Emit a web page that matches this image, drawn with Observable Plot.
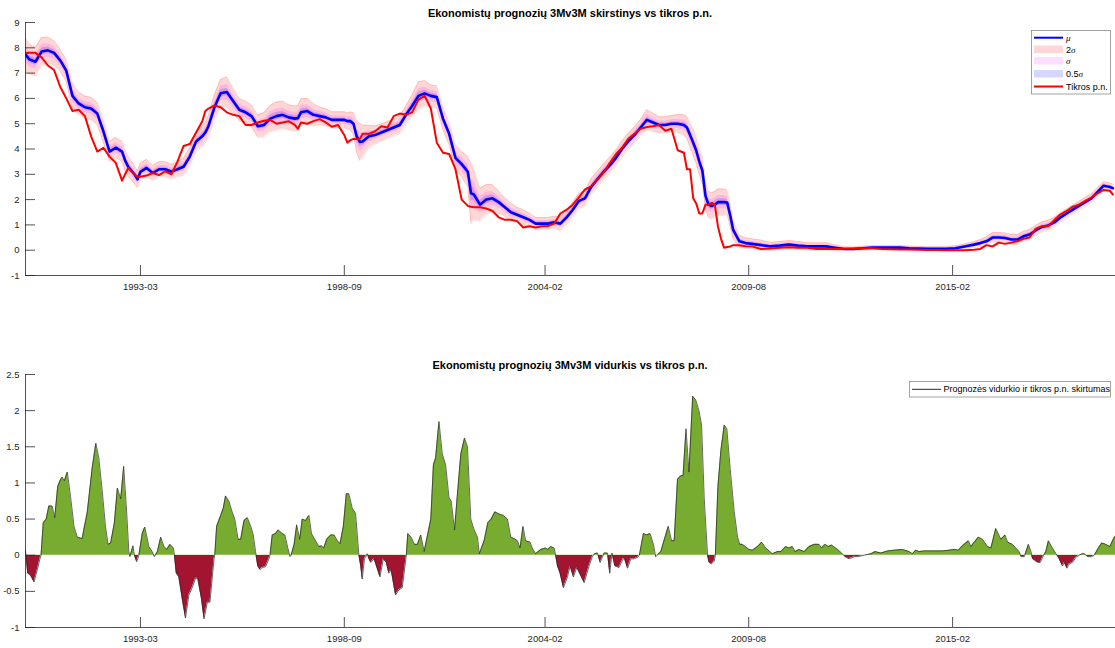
<!DOCTYPE html>
<html>
<head>
<meta charset="utf-8">
<script src="https://cdn.jsdelivr.net/npm/d3@7"></script>
<script src="https://cdn.jsdelivr.net/npm/@observablehq/plot@0.6"></script>
<style>
  html, body { margin: 0; padding: 0; background: white; }
  #wrap { position: relative; width: 1115px; height: 648px; overflow: hidden; font-family: "Liberation Sans", Arial, Helvetica, sans-serif; background: white; }
  .layer { position: absolute; left: 0; width: 1115px; overflow: hidden; }
  .ttl { position: absolute; left: 25px; width: 1090px; text-align: center; font-weight: bold; font-size: 11px; line-height: 14px; color: #000; }
  #overlay { position: absolute; left: 0; top: 0; pointer-events: none; }
</style>
</head>
<body>
<div id="wrap">
  <div id="topPlot" class="layer" style="top:0;height:324px"></div>
  <div id="posLayer" class="layer"></div>
  <div id="negLayer" class="layer"></div>
  <div id="botBase" class="layer" style="top:324px;height:324px"></div>
  <div class="ttl" style="top:6px">Ekonomistų prognozių 3Mv3M skirstinys vs tikros p.n.</div>
  <div class="ttl" style="top:358px">Ekonomistų prognozių 3Mv3M vidurkis vs tikros p.n.</div>
</div>
<script>
// ---------------- DATA ----------------
// Top panel: month, forecast mean (mu), actual rate, forecast std (sigma)
const months = [
"1990-01","1990-03","1990-05","1990-07","1990-09","1990-11","1991-01","1991-03","1991-05","1991-07","1991-09","1991-11",
"1992-01","1992-03","1992-05","1992-07","1992-09","1992-10","1992-11","1993-01","1993-02","1993-03","1993-05","1993-07",
"1993-09","1993-11","1994-01","1994-03","1994-05","1994-07","1994-09","1994-11","1994-12","1995-01","1995-03","1995-05",
"1995-07","1995-09","1995-11","1996-01","1996-03","1996-05","1996-07","1996-09","1996-11","1997-01","1997-03","1997-05",
"1997-06","1997-07","1997-09","1997-11","1998-01","1998-03","1998-05","1998-07","1998-09","1998-10","1998-11","1998-12",
"1999-01","1999-02","1999-03","1999-05","1999-07","1999-09","1999-11","2000-01","2000-03","2000-05","2000-07","2000-09",
"2000-11","2001-01","2001-03","2001-05","2001-07","2001-09","2001-11","2002-01","2002-02","2002-03","2002-05","2002-07",
"2002-09","2002-11","2003-01","2003-03","2003-05","2003-07","2003-09","2003-11","2004-01","2004-03","2004-05","2004-07",
"2004-09","2004-11","2005-01","2005-03","2005-05","2005-07","2005-09","2005-11","2006-01","2006-03","2006-05","2006-07",
"2006-09","2006-11","2007-01","2007-03","2007-05","2007-07","2007-09","2007-11","2007-12","2008-01","2008-02","2008-03",
"2008-04","2008-05","2008-06","2008-07","2008-08","2008-09","2008-10","2008-11","2008-12","2009-01","2009-02","2009-03",
"2009-05","2009-07","2009-09","2009-12","2010-03","2010-06","2010-09","2010-12","2011-03","2011-06","2011-09","2011-12",
"2012-03","2012-06","2012-09","2012-12","2013-03","2013-06","2013-09","2013-12","2014-03","2014-06","2014-09","2014-12",
"2015-03","2015-06","2015-09","2015-11","2016-01","2016-03","2016-05","2016-07","2016-09","2016-11","2017-01","2017-03",
"2017-05","2017-07","2017-09","2017-11","2018-01","2018-03","2018-05","2018-07","2018-09","2018-11","2019-01","2019-03",
"2019-05","2019-06"];
const muValues = [
7.85,7.55,7.45,7.85,7.90,7.80,7.50,7.10,6.10,5.80,5.65,5.60,
5.40,4.70,3.90,4.05,3.90,3.55,3.30,3.00,2.80,3.10,3.25,3.05,
3.20,3.20,3.10,3.20,3.30,3.70,4.30,4.50,4.65,4.90,5.65,6.20,
6.25,5.90,5.55,5.45,5.30,4.90,4.95,5.20,5.30,5.35,5.25,5.20,
5.22,5.45,5.50,5.35,5.30,5.25,5.15,5.15,5.15,5.10,5.10,5.00,
4.50,4.28,4.30,4.50,4.55,4.65,4.75,4.85,4.95,5.35,5.70,6.10,
6.20,6.10,6.05,5.20,4.60,3.65,3.40,3.10,2.25,2.20,1.80,2.00,
2.05,1.90,1.70,1.50,1.40,1.30,1.20,1.05,1.05,1.05,1.10,1.05,
1.30,1.60,1.95,2.05,2.50,2.80,3.10,3.35,3.65,4.00,4.30,4.55,
4.85,5.15,5.05,4.95,4.95,5.00,5.00,4.95,4.85,4.55,4.25,3.95,
3.50,3.15,2.15,1.80,1.75,1.80,1.90,1.90,1.90,1.88,1.35,0.80,
0.35,0.28,0.25,0.20,0.15,0.18,0.22,0.18,0.15,0.15,0.15,0.10,
0.05,0.05,0.08,0.10,0.10,0.10,0.10,0.08,0.07,0.06,0.06,0.06,
0.08,0.15,0.22,0.28,0.35,0.50,0.50,0.48,0.42,0.42,0.55,0.62,
0.78,0.92,0.98,1.10,1.30,1.45,1.60,1.75,1.90,2.05,2.30,2.55,
2.50,2.45];
const actualValues = [
7.78,7.80,7.80,7.62,7.30,7.12,6.45,6.00,5.50,5.55,5.30,4.50,
3.90,4.05,3.70,3.45,2.75,3.00,3.25,3.00,2.90,2.90,2.95,3.05,
2.97,3.12,3.00,3.50,4.12,4.20,4.65,5.10,5.50,5.60,5.72,5.65,
5.45,5.35,5.30,4.95,4.95,5.05,5.12,5.15,5.00,5.05,5.10,4.95,
4.80,5.05,5.00,5.10,5.18,5.05,4.88,4.95,4.55,4.25,4.35,4.40,
4.40,4.40,4.60,4.60,4.70,4.90,4.85,5.30,5.40,5.35,5.45,5.95,
6.10,5.60,4.25,3.85,3.80,3.20,2.00,1.75,1.72,1.70,1.70,1.65,
1.55,1.30,1.20,1.20,1.15,0.90,0.95,0.90,0.95,0.95,1.05,1.45,
1.60,1.80,2.10,2.40,2.52,2.80,3.07,3.45,3.80,4.05,4.40,4.60,
4.80,4.87,4.90,4.95,4.72,4.80,3.95,3.85,3.20,3.20,2.05,1.85,
1.45,1.45,1.80,1.80,1.87,1.80,0.95,0.45,0.10,0.13,0.15,0.20,
0.20,0.16,0.15,0.05,0.07,0.10,0.12,0.10,0.10,0.05,0.05,0.05,
0.06,0.07,0.08,0.08,0.05,0.04,0.03,0.03,0.02,0.01,0.01,0.00,
0.00,0.00,0.02,0.05,0.20,0.15,0.30,0.25,0.30,0.35,0.45,0.50,
0.85,0.95,0.95,1.20,1.42,1.55,1.72,1.80,1.95,2.08,2.25,2.38,
2.35,2.20];
const sigmaValues = [
0.35,0.30,0.28,0.28,0.26,0.24,0.22,0.22,0.25,0.22,0.22,0.22,
0.22,0.22,0.20,0.20,0.20,0.20,0.20,0.18,0.17,0.17,0.17,0.15,
0.15,0.15,0.15,0.15,0.17,0.18,0.18,0.20,0.20,0.22,0.25,0.28,
0.30,0.25,0.22,0.22,0.22,0.22,0.24,0.26,0.28,0.27,0.25,0.25,
0.25,0.27,0.25,0.22,0.18,0.17,0.16,0.16,0.16,0.16,0.18,0.22,
0.32,0.37,0.32,0.22,0.18,0.17,0.17,0.17,0.17,0.18,0.22,0.28,
0.25,0.22,0.22,0.22,0.22,0.25,0.25,0.30,0.60,0.50,0.32,0.30,
0.27,0.22,0.18,0.18,0.15,0.15,0.13,0.12,0.12,0.12,0.12,0.14,
0.15,0.15,0.15,0.15,0.16,0.16,0.16,0.16,0.16,0.16,0.16,0.16,
0.16,0.20,0.18,0.16,0.16,0.16,0.18,0.20,0.22,0.24,0.26,0.26,
0.26,0.26,0.26,0.26,0.26,0.26,0.26,0.26,0.26,0.24,0.22,0.18,
0.12,0.10,0.10,0.10,0.08,0.08,0.08,0.08,0.07,0.07,0.07,0.06,
0.04,0.04,0.04,0.04,0.04,0.04,0.04,0.04,0.04,0.04,0.04,0.04,
0.05,0.05,0.06,0.07,0.09,0.10,0.10,0.10,0.10,0.10,0.10,0.10,
0.10,0.10,0.10,0.10,0.09,0.09,0.09,0.09,0.09,0.09,0.08,0.08,
0.08,0.08];

// Bottom panel: difference of forecast mean and actual rate (decimal year, value)
const diffYears = [
1990.06,1990.12,1990.20,1990.29,1990.38,1990.45,1990.48,1990.54,1990.62,1990.69,1990.78,1990.85,1990.93,1991.01,1991.05,1991.11,
1991.19,1991.28,1991.37,1991.46,1991.59,1991.73,1991.86,1991.96,1992.04,1992.13,1992.22,1992.29,1992.36,1992.46,1992.54,1992.63,
1992.71,1992.79,1992.85,1992.88,1992.96,1993.00,1993.06,1993.12,1993.21,1993.28,1993.39,1993.48,1993.54,1993.62,1993.71,1993.80,
1993.87,1993.96,1994.05,1994.08,1994.13,1994.20,1994.29,1994.38,1994.47,1994.56,1994.65,1994.71,1994.81,1994.88,1994.97,1995.04,
1995.15,1995.17,1995.22,1995.33,1995.40,1995.46,1995.55,1995.64,1995.71,1995.80,1995.87,1995.96,1996.05,1996.14,1996.21,1996.27,
1996.33,1996.39,1996.45,1996.54,1996.63,1996.66,1996.72,1996.81,1996.88,1996.99,1997.06,1997.14,1997.20,1997.23,1997.31,1997.38,
1997.46,1997.53,1997.62,1997.71,1997.78,1997.89,1997.98,1998.05,1998.11,1998.19,1998.30,1998.39,1998.48,1998.55,1998.64,1998.72,
1998.79,1998.88,1998.97,1999.06,1999.11,1999.15,1999.21,1999.29,1999.33,
1999.38,1999.47,1999.63,1999.72,1999.80,1999.87,1999.93,2000.05,2000.14,2000.23,2000.34,2000.38,2000.47,2000.56,2000.64,2000.73,
2000.82,2000.92,2001.00,2001.07,2001.13,2001.22,2001.31,2001.40,2001.49,2001.55,2001.64,2001.72,2001.81,2001.91,2001.99,2002.08,
2002.17,2002.26,2002.31,2002.44,2002.54,2002.63,2002.73,2002.84,2002.96,2003.07,2003.16,2003.25,2003.34,2003.41,2003.49,2003.56,
2003.68,2003.74,2003.83,2003.97,2004.10,2004.16,2004.24,2004.33,2004.37,2004.42,2004.49,2004.58,2004.69,2004.76,2004.85,2004.94,
2005.14,2005.27,2005.36,2005.42,2005.50,2005.57,2005.68,2005.77,2005.83,2005.89,2005.97,2006.08,2006.19,2006.23,2006.31,2006.40,
2006.49,2006.58,2006.63,2006.74,2006.82,2006.92,2007.01,2007.07,2007.21,2007.41,2007.50,2007.57,2007.66,2007.75,2007.81,2007.89,
2007.97,2008.07,2008.15,2008.24,2008.31,2008.38,2008.47,2008.51,2008.58,2008.65,2008.68,2008.75,2008.83,2008.92,2008.99,2009.08,
2009.19,2009.28,2009.34,
2009.41,2009.59,2009.68,2009.82,2009.93,2010.04,2010.22,2010.36,2010.45,2010.58,2010.67,2010.76,2010.83,2010.94,2011.08,2011.21,
2011.35,2011.48,2011.55,2011.64,2011.73,2011.82,2011.98,2012.09,2012.18,2012.29,2012.43,2012.52,2012.70,2012.88,2012.99,2013.15,
2013.33,2013.51,2013.73,2013.91,2014.00,2014.09,2014.18,2014.32,2014.59,2014.81,2014.99,2015.13,2015.24,2015.35,2015.51,2015.58,
2015.67,2015.78,2015.89,2016.03,2016.12,2016.25,2016.39,2016.50,2016.57,2016.70,2016.79,2016.88,2016.93,2017.02,2017.13,2017.20,
2017.24,2017.38,2017.45,2017.54,2017.60,2017.67,2017.78,2017.90,2017.96,2018.05,2018.10,2018.17,2018.23,2018.32,2018.41,2018.50,
2018.59,2018.64,2018.73,2018.84,2018.91,2019.02,2019.11,2019.22,2019.33,2019.45,2019.49];
const diffValues = [
0.07,-0.25,-0.28,-0.37,-0.20,-0.05,0.00,0.45,0.50,0.68,0.68,0.52,0.95,1.05,1.08,1.03,
1.15,0.80,0.40,0.25,0.23,0.60,1.20,1.55,1.35,0.90,0.40,0.15,0.17,0.45,0.93,0.78,
1.23,0.60,0.05,-0.02,0.13,0.00,-0.09,0.00,0.30,0.39,0.12,0.05,-0.02,0.05,0.25,0.12,
0.08,0.15,0.10,0.00,-0.25,-0.30,-0.60,-0.87,-0.55,-0.45,-0.32,-0.32,-0.60,-0.88,-0.65,-0.65,
-0.05,0.00,0.40,0.55,0.65,0.82,0.75,0.60,0.50,0.22,0.22,0.48,0.52,0.40,0.28,0.05,
-0.15,-0.20,-0.17,-0.16,-0.05,0.00,0.28,0.30,0.35,0.30,0.28,0.10,-0.02,0.00,0.15,0.42,
0.22,0.50,0.48,0.55,0.30,0.20,0.12,0.13,0.10,0.22,0.28,0.28,0.20,0.16,0.40,0.85,
0.85,0.65,0.58,0.00,-0.15,-0.33,-0.05,0.02,-0.05,
-0.10,-0.05,-0.30,-0.05,-0.10,-0.25,-0.20,-0.55,-0.48,-0.45,0.00,0.30,0.25,0.15,0.15,0.28,
0.05,0.30,0.50,1.25,1.35,1.85,1.40,1.25,0.80,0.75,0.35,0.85,1.40,1.62,1.50,0.50,
0.35,0.25,0.02,0.20,0.45,0.50,0.60,0.57,0.55,0.50,0.25,0.23,0.20,0.10,0.40,0.20,
0.18,0.10,0.02,0.08,0.10,0.08,0.12,0.10,0.00,-0.15,-0.25,-0.45,-0.30,-0.15,-0.30,-0.17,
-0.38,-0.15,-0.02,0.02,0.03,-0.10,0.03,0.03,-0.25,0.03,-0.15,-0.17,-0.05,-0.05,-0.18,-0.05,
-0.05,-0.03,0.00,0.30,0.28,0.30,0.15,-0.02,0.05,0.40,0.20,0.20,1.05,1.10,1.10,1.75,
1.15,2.20,2.15,2.00,1.80,0.80,0.00,-0.10,-0.12,-0.08,0.00,0.95,1.45,1.80,1.75,1.20,
0.60,0.25,0.15,
0.15,0.08,0.07,0.12,0.18,0.10,0.02,0.05,0.05,0.12,0.10,0.12,0.05,0.08,0.05,0.12,
0.15,0.15,0.10,0.15,0.12,0.14,0.08,0.03,-0.02,-0.05,-0.02,-0.02,0.00,0.02,0.05,0.03,
0.06,0.07,0.08,0.05,0.02,0.07,0.05,0.06,0.06,0.06,0.07,0.08,0.07,0.13,0.20,0.12,
0.18,0.25,0.22,0.12,0.10,0.37,0.22,0.28,0.18,0.15,0.10,0.05,-0.02,-0.02,0.15,0.05,
-0.05,-0.10,-0.10,0.00,0.05,0.20,0.10,0.00,-0.05,-0.15,-0.10,-0.18,-0.12,-0.10,-0.03,0.00,
0.02,0.02,-0.02,-0.02,0.00,0.10,0.17,0.15,0.12,0.25,0.27];

// Axis ticks
const xTickLabels = ["1993-03","1998-09","2004-02","2009-08","2015-02"];
const topYTicks = [-1,0,1,2,3,4,5,6,7,8,9];
const botYTicks = [-1,-0.5,0,0.5,1,1.5,2,2.5];
const xDomainLabels = ["1990-01-23","2019-06-26"];

// ---------------- BUILD ----------------
const parseMonth = d3.utcParse("%Y-%m");
const parseDay = d3.utcParse("%Y-%m-%d");
function decYear(t) {
  const y = Math.floor(t);
  const a = Date.UTC(y, 0, 1), b = Date.UTC(y + 1, 0, 1);
  return new Date(a + (t - y) * (b - a));
}
const topData = months.map((m, i) => ({date: parseMonth(m), mu: muValues[i], act: actualValues[i], sig: sigmaValues[i]}));
const diffData = diffYears.map((t, i) => ({date: decYear(t), v: diffValues[i]}));
const xTicks = xTickLabels.map(parseMonth);
const xDomain = xDomainLabels.map(parseDay);

const FONT = '"Liberation Sans", Arial, Helvetica, sans-serif';
const AX = "#262626";
const W = 1115, H = 324, ML = 25, MR = 0;

function axesMarks(yMin, plotH) {
  return [
    Plot.ruleX([xDomain[0]], {stroke: AX, strokeWidth: 0.8}),
    Plot.ruleY([yMin], {stroke: AX, strokeWidth: 0.8}),
    Plot.tickX(xTicks, {x: d => d, stroke: AX, strokeWidth: 0.8, insetTop: plotH - 10}),
  ];
}

// Top panel
const topMT = 22, topMB = 49;
const topH = H - topMT - topMB;
const topPlot = Plot.plot({
  width: W, height: H, marginLeft: ML, marginRight: MR, marginTop: topMT, marginBottom: topMB,
  style: {fontFamily: FONT, fontSize: "9.5px", color: AX, background: "white", overflow: "hidden"},
  x: {type: "utc", domain: xDomain, ticks: xTicks, tickFormat: d3.utcFormat("%Y-%m"), tickSize: 0, tickPadding: 8, label: null},
  y: {domain: [-1, 9], ticks: topYTicks, tickFormat: d => String(d), tickSize: 0, tickPadding: 6, label: null},
  marks: [
    Plot.areaY(topData, {x: "date", y1: d => d.mu - 2 * d.sig, y2: d => d.mu + 2 * d.sig, fill: "#ff0000", fillOpacity: 0.16, clip: true}),
    Plot.line(topData, {x: "date", y: d => d.mu + 2 * d.sig, stroke: "#ff0000", strokeOpacity: 0.2, strokeWidth: 0.7, clip: true}),
    Plot.line(topData, {x: "date", y: d => d.mu - 2 * d.sig, stroke: "#ff0000", strokeOpacity: 0.2, strokeWidth: 0.7, clip: true}),
    Plot.areaY(topData, {x: "date", y1: d => d.mu - d.sig, y2: d => d.mu + d.sig, fill: "#ff00ff", fillOpacity: 0.15, clip: true}),
    Plot.areaY(topData, {x: "date", y1: d => d.mu - 0.5 * d.sig, y2: d => d.mu + 0.5 * d.sig, fill: "#0000ff", fillOpacity: 0.17, clip: true}),
    Plot.line(topData, {x: "date", y: "mu", stroke: "#0000ff", strokeWidth: 2.6, clip: true}),
    Plot.line(topData, {x: "date", y: "act", stroke: "#ff0000", strokeWidth: 2, clip: true}),
    ...axesMarks(-1, topH),
    Plot.tickY(topYTicks, {y: d => d, stroke: AX, strokeWidth: 0.8, insetRight: W - ML - MR - 10})
  ]
});
document.getElementById("topPlot").appendChild(topPlot);

// Bottom panel: base plot (axes + outline) and two area layers, each shown only on its side of zero
const botMT = 50, botMB = 21;
const botH = H - botMT - botMB;
function botSpec(marks, showAxes, bg) {
  return {
    width: W, height: H, marginLeft: ML, marginRight: MR, marginTop: botMT, marginBottom: botMB,
    style: {fontFamily: FONT, fontSize: "9.5px", color: AX, background: bg, overflow: "hidden", display: "block"},
    x: {type: "utc", domain: xDomain, ticks: xTicks, tickFormat: d3.utcFormat("%Y-%m"), tickSize: 0, tickPadding: 8, label: null, axis: showAxes ? "bottom" : null},
    y: {domain: [-1, 2.5], ticks: botYTicks, tickFormat: d => String(d), tickSize: 0, tickPadding: 6, label: null, axis: showAxes ? "left" : null},
    marks
  };
}
const botBase = Plot.plot(botSpec([
  Plot.line(diffData, {x: "date", y: "v", stroke: "#262626", strokeWidth: 0.7}),
  ...axesMarks(-1, botH),
  Plot.tickY(botYTicks, {y: d => d, stroke: AX, strokeWidth: 0.8, insetRight: W - ML - MR - 10})
], true, "transparent"));
const posPlot = Plot.plot(botSpec([
  Plot.areaY(diffData, {x: "date", y1: 0, y2: "v", fill: "#77ac30"})
], false, "transparent"));
const negPlot = Plot.plot(botSpec([
  Plot.areaY(diffData, {x: "date", y1: 0, y2: "v", fill: "#a2142f"})
], false, "transparent"));

let y0 = NaN;
try { y0 = botBase.scale("y").apply(0); } catch (e) {}
if (!isFinite(y0)) y0 = botMT + botH * (2.5 / 3.5);
const top0 = 324;
const posDiv = document.getElementById("posLayer");
const negDiv = document.getElementById("negLayer");
posDiv.style.top = top0 + "px";
posDiv.style.height = y0 + "px";
negDiv.style.top = (top0 + y0) + "px";
negDiv.style.height = (H - y0) + "px";
negPlot.style.position = "absolute";
negPlot.style.top = (-y0) + "px";
negPlot.style.left = "0px";
posDiv.appendChild(posPlot);
negDiv.appendChild(negPlot);
document.getElementById("botBase").appendChild(botBase);

// ---------------- LEGENDS ----------------
const SERIF = "'Liberation Serif', 'DejaVu Serif', serif";
const legendSvg = `
<svg id="overlay" width="1115" height="648" xmlns="http://www.w3.org/2000/svg" font-family='${FONT}' font-size="9px" fill="#000">
  <rect x="1031.5" y="30.5" width="79" height="63.5" fill="white" stroke="#8c8c8c" stroke-width="0.8"/>
  <line x1="1034" x2="1063" y1="37.7" y2="37.7" stroke="#0000ff" stroke-width="2"/>
  <text x="1066" y="37.7" dominant-baseline="central" font-family="${SERIF}" font-style="italic">μ</text>
  <rect x="1034" y="45.5" width="29" height="7.5" fill="#ff0000" fill-opacity="0.16"/>
  <text x="1066" y="49.5" dominant-baseline="central">2<tspan font-family="${SERIF}" font-style="italic">σ</tspan></text>
  <rect x="1034" y="57" width="29" height="7.5" fill="#ff00ff" fill-opacity="0.13"/>
  <text x="1066" y="61" dominant-baseline="central" font-family="${SERIF}" font-style="italic">σ</text>
  <rect x="1034" y="70" width="29" height="7.5" fill="#0000ff" fill-opacity="0.16"/>
  <text x="1066" y="74" dominant-baseline="central">0.5<tspan font-family="${SERIF}" font-style="italic">σ</tspan></text>
  <line x1="1034" x2="1063" y1="86.5" y2="86.5" stroke="#ff0000" stroke-width="2"/>
  <text x="1066" y="86.5" dominant-baseline="central">Tikros p.n.</text>

  <rect x="909.5" y="381.5" width="201" height="15.5" fill="white" stroke="#8c8c8c" stroke-width="0.8"/>
  <line x1="912" x2="941" y1="389.3" y2="389.3" stroke="#262626" stroke-width="1"/>
  <text x="943.5" y="389.3" dominant-baseline="central">Prognozės vidurkio ir tikros p.n. skirtumas</text>
</svg>`;
document.getElementById("wrap").insertAdjacentHTML("beforeend", legendSvg);
</script>
</body>
</html>
